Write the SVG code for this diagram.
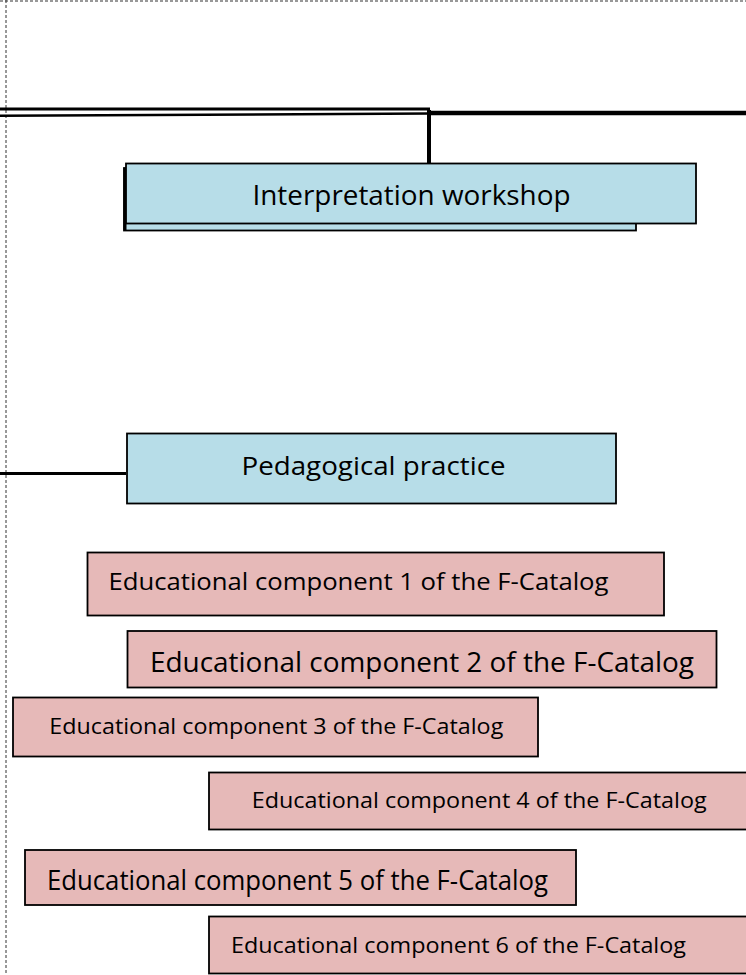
<svg xmlns="http://www.w3.org/2000/svg" width="746" height="975" viewBox="0 0 746 975">
<style>
.blue{fill:#b7dde8;stroke:#000;stroke-width:1.8}
.pink{fill:#e6b9b8;stroke:#000;stroke-width:1.8}
.t{font-family:"Open Sans","Noto Sans",sans-serif;fill:#000}
.conn{stroke:#000;fill:none}
.border{stroke:#333;stroke-width:1;stroke-dasharray:3,2;fill:none}
</style>
<rect width="746" height="975" fill="#fff"/>
<g id="border">
<line class="border" x1="0" y1="1" x2="746" y2="1"/>
<line class="border" x1="6" y1="0" x2="6" y2="975"/>
</g>
<g id="connectors">
<line class="conn" x1="0" y1="109" x2="430" y2="109" stroke-width="3"/>
<line class="conn" x1="0" y1="115.8" x2="430" y2="113.5" stroke-width="2.5"/>
<line class="conn" x1="427" y1="113" x2="746" y2="113" stroke-width="4.5"/>
<line class="conn" x1="429" y1="110" x2="429" y2="164" stroke-width="4"/>
<line class="conn" x1="0" y1="473.5" x2="126" y2="473.5" stroke-width="3"/>
</g>
<g id="interpretation-workshop">
<rect class="blue" x="124" y="168" width="512" height="62.5"/>
<line x1="125" y1="168" x2="125" y2="230" stroke="#000" stroke-width="3"/>
<rect class="blue" x="126" y="163.5" width="570" height="60"/>
<text class="t" x="252.5" y="205" font-size="27" textLength="318" lengthAdjust="spacingAndGlyphs">Interpretation workshop</text>
</g>
<g id="pedagogical-practice">
<rect class="blue" x="127" y="433.5" width="489" height="70"/>
<text class="t" x="241.5" y="475" font-size="26" textLength="264" lengthAdjust="spacingAndGlyphs">Pedagogical practice</text>
</g>
<g id="component-1">
<rect class="pink" x="87.5" y="552.5" width="576.5" height="63"/>
<text class="t" x="108.5" y="590" font-size="24.5" textLength="500" lengthAdjust="spacingAndGlyphs">Educational component 1 of the F-Catalog</text>
</g>
<g id="component-2">
<rect class="pink" x="127.5" y="631" width="589" height="56.5"/>
<text class="t" x="150" y="672.3" font-size="27" textLength="544" lengthAdjust="spacingAndGlyphs">Educational component 2 of the F-Catalog</text>
</g>
<g id="component-3">
<rect class="pink" x="13" y="697.5" width="525" height="59"/>
<text class="t" x="49.3" y="734" font-size="22.5" textLength="454" lengthAdjust="spacingAndGlyphs">Educational component 3 of the F-Catalog</text>
</g>
<g id="component-4">
<rect class="pink" x="209" y="772.5" width="545" height="57"/>
<text class="t" x="251.7" y="808.3" font-size="21.5" textLength="455" lengthAdjust="spacingAndGlyphs">Educational component 4 of the F-Catalog</text>
</g>
<g id="component-5">
<rect class="pink" x="25" y="850" width="551" height="55"/>
<text class="t" x="47" y="890" font-size="27" textLength="501" lengthAdjust="spacingAndGlyphs">Educational component 5 of the F-Catalog</text>
</g>
<g id="component-6">
<rect class="pink" x="209" y="916.5" width="545" height="57"/>
<text class="t" x="231" y="953.3" font-size="22.5" textLength="455" lengthAdjust="spacingAndGlyphs">Educational component 6 of the F-Catalog</text>
</g>
</svg>
